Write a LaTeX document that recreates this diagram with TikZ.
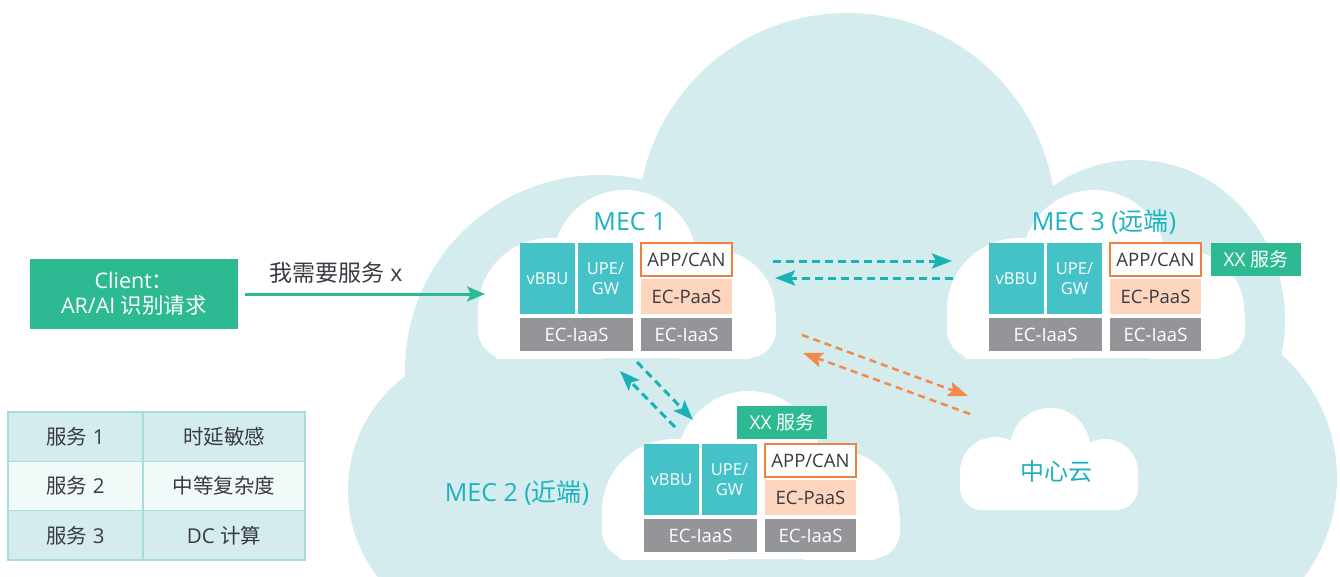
\documentclass[tikz,border=0pt]{standalone}
\usepackage{fontspec}
\setmainfont{Open Sans}
\newfontfamily\cjk{Noto Sans CJK SC}
\usetikzlibrary{arrows.meta}

\definecolor{cloudbg}{HTML}{D4ECED}
\definecolor{tealbox}{HTML}{45C2C7}
\definecolor{graybox}{HTML}{939598}
\definecolor{peach}{HTML}{FCD5BC}
\definecolor{orangeln}{HTML}{F0803F}
\definecolor{greenbox}{HTML}{2DBA93}
\definecolor{tealtxt}{HTML}{1DB2BF}
\definecolor{tealarrow}{HTML}{19B3B7}
\definecolor{orangearrow}{HTML}{F28A4D}
\definecolor{darktxt}{HTML}{3A3A44}
\definecolor{rowA}{HTML}{D4ECED}
\definecolor{rowB}{HTML}{F1F9F9}
\definecolor{tblline}{HTML}{A6DCDD}

% the stack of platform boxes of one edge site, origin at the top left of vBBU
\newcommand\mecstack[1]{%
  \node[tealcell, minimum width=55pt, minimum height=71pt] (#1vbbu) at (0,0) {vBBU};
  \node[tealcell, minimum width=55pt, minimum height=71pt, align=center] (#1upe) at (58,0) {UPE/\\GW};
  \node[appcell, minimum width=91pt, minimum height=33pt] (#1app) at (121,0) {APP/CAN};
  \node[paascell, minimum width=91pt, minimum height=35pt] (#1paas) at (121,36) {EC-PaaS};
  \node[graycell, minimum width=113pt, minimum height=33pt] (#1iaasa) at (0,75) {EC-IaaS};
  \node[graycell, minimum width=91pt, minimum height=33pt] (#1iaasb) at (121,75) {EC-IaaS};
}

% white cloud behind one edge site (drawn in the frame of MEC 1)
\newcommand\sitecloud{%
  \begin{scope}
    \clip (440,150) rectangle (800,358);
    \fill[white] (550,310) circle[radius=72pt];
    \fill[white] (625,262) circle[radius=72pt];
    \fill[white] (715,310) circle[radius=60pt];
    \fill[white, rounded corners=28pt] (478,290) rectangle (776,358);
  \end{scope}
}

\begin{document}
\begin{tikzpicture}[x=1pt, y=-1pt,
  box/.style={inner sep=0pt, outer sep=0pt, anchor=north west},
  tealcell/.style={box, fill=tealbox, text=white, font=\fontsize{16.5}{20}\selectfont},
  graycell/.style={box, fill=graybox, text=white, font=\fontsize{18.5}{22}\selectfont},
  paascell/.style={box, fill=peach, text=darktxt, font=\fontsize{18.5}{22}\selectfont},
  appcell/.style={box, fill=white, draw=orangeln, line width=1.5pt, text=darktxt, font=\fontsize{18.5}{22}\selectfont},
  svccell/.style={box, fill=greenbox, text=white, font=\fontsize{19}{22}\selectfont, minimum width=90pt, minimum height=33pt},
  mectxt/.style={text=tealtxt, font=\fontsize{25}{30}\selectfont, inner sep=0pt},
  tblcell/.style={box, draw=tblline, line width=1.5pt, text=darktxt, font=\fontsize{20.5}{24}\selectfont, minimum height=49.3pt},
  tealdash/.style={draw=tealarrow, line width=3pt, dash pattern=on 8pt off 5pt, -{Stealth[length=20pt, width=15pt, inset=4pt]}},
  orangedash/.style={draw=orangearrow, line width=2.5pt, dash pattern=on 7pt off 5pt, -{Stealth[length=20pt, width=15pt, inset=4pt]}},
  greenarrow/.style={draw=greenbox, line width=3pt, -{Stealth[length=18pt, width=15pt, inset=4pt]}}
]
\useasboundingbox (0,0) rectangle (1340,577);
\clip (0,0) rectangle (1340,577);

% large background cloud
\fill[cloudbg] (847,222) circle[radius=209pt];
\fill[cloudbg] (600,370) circle[radius=195pt];
\fill[cloudbg] (490,490) circle[radius=142pt];
\fill[cloudbg] (1135,320) ellipse[x radius=150pt, y radius=160pt];
\fill[cloudbg] (1172,478) circle[radius=165pt];
\fill[cloudbg] (450,250) rectangle (1250,600);

% white site clouds
\sitecloud
\begin{scope}[shift={(469,0)}]\sitecloud\end{scope}
\begin{scope}[shift={(124,201)}]\sitecloud\end{scope}

% central cloud
\begin{scope}
  \clip (940,380) rectangle (1160,510);
  \fill[white] (995,472) circle[radius=35pt];
  \fill[white] (1050,448) circle[radius=40pt];
  \fill[white] (1105,472) circle[radius=33pt];
  \fill[white, rounded corners=22pt] (960,460) rectangle (1138,510);
\end{scope}
\node[text=tealtxt, font=\fontsize{24}{28}\selectfont\cjk, inner sep=0pt] (dc) at (1056,471) {中心云};

% edge sites
\node[mectxt] (mec1lbl) at (630,222) {MEC 1};
\begin{scope}[shift={(520,243)}]\mecstack{ma}\end{scope}

\node[mectxt] (mec3lbl) at (1104,222) {MEC 3 ({\cjk 远端})};
\begin{scope}[shift={(989,243)}]\mecstack{mc}\end{scope}
\node[svccell] (mcsvc) at (1211,243) {XX {\cjk 服务}};

\node[mectxt] (mec2lbl) at (517,493) {MEC 2 ({\cjk 近端})};
\begin{scope}[shift={(644,444)}]\mecstack{mb}\end{scope}
\node[svccell] (mbsvc) at (737,406) {XX {\cjk 服务}};

% client request
\node[box, fill=greenbox, text=white, minimum width=208pt, minimum height=70pt, align=center,
      font=\fontsize{21.5}{25}\selectfont] (client) at (30,259) {Client{\cjk ：}\\AR/AI {\cjk 识别请求}};
\node[text=darktxt, font=\fontsize{23}{27}\selectfont, inner sep=0pt] (reqlbl) at (336,273) {{\cjk 我需要服务} x};
\coordinate (reqend) at (485,294);
\draw[greenarrow] ([xshift=7pt]client.east) -- (reqend);

% links between sites
\coordinate (ab1) at (773,261); \coordinate (ab2) at (952,261);
\coordinate (ba1) at (953,278); \coordinate (ba2) at (775,278);
\draw[tealdash] (ab1) -- (ab2);
\draw[tealdash] (ba1) -- (ba2);

\coordinate (ac1) at (637,362); \coordinate (ac2) at (693,420);
\coordinate (ca1) at (675,427); \coordinate (ca2) at (620,371);
\draw[tealdash] (ac1) -- (ac2);
\draw[tealdash] (ca1) -- (ca2);

\coordinate (ad1) at (802,335); \coordinate (ad2) at (968,396);
\coordinate (da1) at (970,414); \coordinate (da2) at (803,353);
\draw[orangedash] (ad1) -- (ad2);
\draw[orangedash] (da1) -- (da2);

% service table
\node[tblcell, fill=rowA, minimum width=135pt] (s1) at (8,412) {{\cjk 服务} 1};
\node[tblcell, fill=rowA, minimum width=162pt] (p1) at (143,412) {\cjk 时延敏感};
\node[tblcell, fill=rowB, minimum width=135pt] (s2) at (8,461.3) {{\cjk 服务} 2};
\node[tblcell, fill=rowB, minimum width=162pt] (p2) at (143,461.3) {\cjk 中等复杂度};
\node[tblcell, fill=rowA, minimum width=135pt] (s3) at (8,510.6) {{\cjk 服务} 3};
\node[tblcell, fill=rowA, minimum width=162pt] (p3) at (143,510.6) {DC {\cjk 计算}};
\end{tikzpicture}
\end{document}
